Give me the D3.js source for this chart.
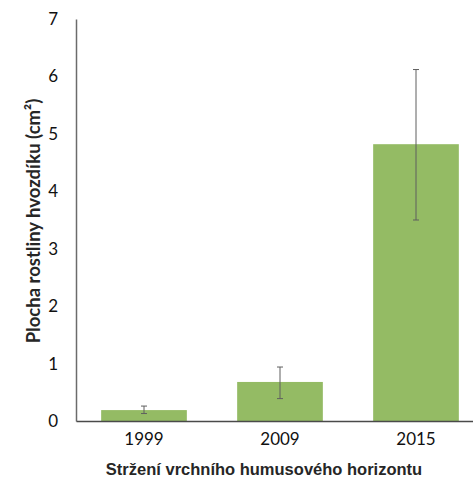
<!DOCTYPE html>
<html>
<head>
<meta charset="utf-8">
<script src="https://cdn.jsdelivr.net/npm/d3@7"></script>
<style>
  body { margin: 0; background: #fff; }
  svg { display: block; }
</style>
</head>
<body>
<div id="chart"></div>
<script>
// data
const years = ["1999", "2009", "2015"];
const means = [0.19, 0.68, 4.82];
const errLow = [0.13, 0.39, 3.50];
const errHigh = [0.26, 0.94, 6.12];
const yTicks = [0, 1, 2, 3, 4, 5, 6, 7];

const W = 473, H = 486;
const margin = {top: 19, left: 76, bottom: 65};
const plotH = H - margin.top - margin.bottom;

const svg = d3.select("#chart").append("svg")
    .attr("width", W)
    .attr("height", H);

// band scale runs past the right edge, like the cropped original
const x = d3.scaleBand()
    .domain(years)
    .range([margin.left, margin.left + 136 * years.length])
    .paddingInner(0)
    .paddingOuter(0);

const y = d3.scaleLinear()
    .domain([0, 7])
    .range([margin.top + plotH, margin.top]);

const barW = x.bandwidth() * 0.63;

// bars
svg.selectAll("rect.bar")
    .data(years)
    .enter()
    .append("rect")
    .attr("class", "bar")
    .attr("x", d => x(d) + (x.bandwidth() - barW) / 2)
    .attr("y", (d, i) => y(means[i]))
    .attr("width", barW)
    .attr("height", (d, i) => y(0) - y(means[i]))
    .attr("fill", "#94bb64");

// error bars
const errG = svg.selectAll("g.err")
    .data(years)
    .enter()
    .append("g")
    .attr("class", "err")
    .attr("stroke", "#5f5f5f")
    .attr("stroke-width", 1);

errG.append("line")
    .attr("x1", d => x(d) + x.bandwidth() / 2)
    .attr("x2", d => x(d) + x.bandwidth() / 2)
    .attr("y1", (d, i) => y(errLow[i]))
    .attr("y2", (d, i) => y(errHigh[i]));

[errLow, errHigh].forEach(arr => {
    errG.append("line")
        .attr("x1", d => x(d) + x.bandwidth() / 2 - 3)
        .attr("x2", d => x(d) + x.bandwidth() / 2 + 3)
        .attr("y1", (d, i) => y(arr[i]))
        .attr("y2", (d, i) => y(arr[i]));
});

// y axis (line only, no ticks)
const yAxis = svg.append("g")
    .attr("transform", `translate(${margin.left},0)`)
    .call(d3.axisLeft(y).tickValues(yTicks).tickSize(0).tickPadding(18).tickFormat(d3.format("d")));
yAxis.select(".domain").attr("stroke", "#6b6b6b").attr("stroke-width", 1.5);
yAxis.selectAll("text")
    .attr("font-family", "Lato, 'Open Sans', sans-serif")
    .attr("font-size", 17)
    .attr("fill", "#111");

// x axis
const xAxis = svg.append("g")
    .attr("transform", `translate(0,${y(0)})`)
    .call(d3.axisBottom(x).tickSize(0).tickPadding(12));
xAxis.select(".domain").attr("stroke", "#4a4a4a").attr("stroke-width", 1.5);
xAxis.selectAll("text")
    .attr("font-family", "Lato, 'Open Sans', sans-serif")
    .attr("font-size", 17)
    .attr("fill", "#111");

// axis titles
svg.append("text")
    .attr("x", 264)
    .attr("y", 475)
    .attr("text-anchor", "middle")
    .attr("font-family", "'Liberation Sans', sans-serif")
    .attr("font-weight", "bold")
    .attr("font-size", 16.5)
    .attr("fill", "#262626")
    .text("Stržení vrchního humusového horizontu");

svg.append("text")
    .attr("transform", `translate(40,221) rotate(-90)`)
    .attr("text-anchor", "middle")
    .attr("font-family", "Lato, sans-serif")
    .attr("font-weight", "bold")
    .attr("font-size", 18.5)
    .attr("fill", "#262626")
    .text("Plocha rostliny hvozdíku (cm²)");
</script>
</body>
</html>
